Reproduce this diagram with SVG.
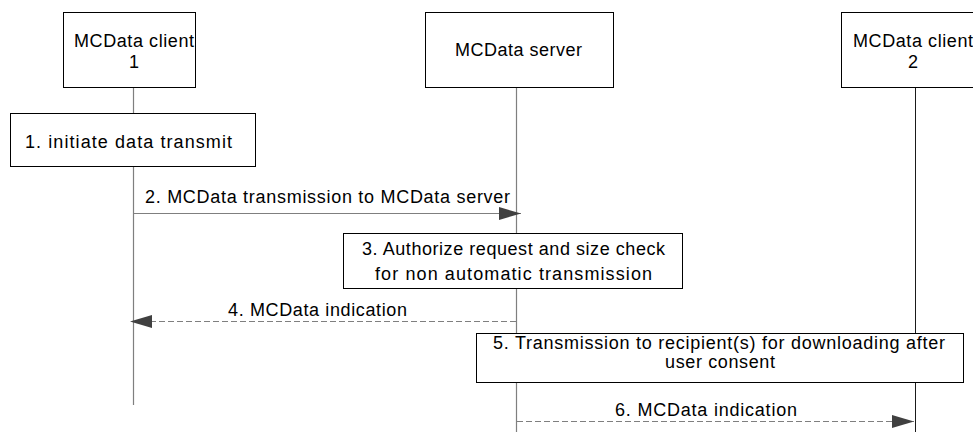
<svg xmlns="http://www.w3.org/2000/svg" width="973" height="432" viewBox="0 0 973 432">
<style>
text{font-family:"Liberation Sans",Arial,sans-serif;font-size:18px;fill:#000}
.box{fill:#fff;stroke:#000;stroke-width:1}
.life{stroke:#7f7f7f;stroke-width:1.2;fill:none}
.life2{stroke:#1a1a1a;stroke-width:1;fill:none}
.msg{stroke:#7f7f7f;stroke-width:1.2;fill:none}
.dash{stroke-dasharray:6 3}
</style>
<defs>
<marker id="ah" markerUnits="userSpaceOnUse" markerWidth="22" markerHeight="13" refX="22" refY="6.5" orient="auto">
<path d="M0,0 L22,6.5 L0,13 Z" fill="#404040"/>
</marker>
</defs>
<g id="lifelines">
<line class="life" x1="133.5" y1="88" x2="133.5" y2="405"/>
<line class="life" x1="516.5" y1="88" x2="516.5" y2="432"/>
<line class="life2" x1="915.5" y1="88" x2="915.5" y2="432"/>
</g>
<g id="client1">
<rect class="box" x="63.5" y="12.5" width="132" height="75"/>
<text x="74" y="47" textLength="120" lengthAdjust="spacing">MCData client</text>
<text x="134" y="68" text-anchor="middle">1</text>
</g>
<g id="server">
<rect class="box" x="425.5" y="12.5" width="188" height="75"/>
<text x="455" y="56" textLength="127" lengthAdjust="spacing">MCData server</text>
</g>
<g id="client2">
<rect class="box" x="841.5" y="12.5" width="150" height="75"/>
<text x="853" y="47" textLength="120" lengthAdjust="spacing">MCData client</text>
<text x="913" y="68" text-anchor="middle">2</text>
</g>
<g id="step1">
<rect class="box" x="10.5" y="113.5" width="245" height="53"/>
<text x="25" y="148" textLength="207" lengthAdjust="spacing">1. initiate data transmit</text>
</g>
<g id="step3">
<rect class="box" x="343.5" y="233.5" width="339" height="55"/>
<text x="362" y="255" textLength="303" lengthAdjust="spacing">3. Authorize request and size check</text>
<text x="375" y="280" textLength="277" lengthAdjust="spacing">for non automatic transmission</text>
</g>
<g id="step5">
<rect class="box" x="476.5" y="333.5" width="487" height="49"/>
<text x="493" y="349" textLength="452" lengthAdjust="spacing">5. Transmission to recipient(s) for downloading after</text>
<text x="665" y="368" textLength="110" lengthAdjust="spacing">user consent</text>
</g>
<g id="connectors">
<line class="msg" x1="134" y1="213.5" x2="521" y2="213.5" marker-end="url(#ah)"/>
<text x="145" y="203" textLength="365" lengthAdjust="spacing">2. MCData transmission to MCData server</text>
<line class="msg dash" x1="516" y1="321.5" x2="130" y2="321.5" marker-end="url(#ah)"/>
<text x="228" y="316" textLength="179" lengthAdjust="spacing">4. MCData indication</text>
<line class="msg dash" x1="517" y1="421.5" x2="914" y2="421.5" marker-end="url(#ah)"/>
<text x="615" y="416" textLength="182" lengthAdjust="spacing">6. MCData indication</text>
</g>
</svg>
